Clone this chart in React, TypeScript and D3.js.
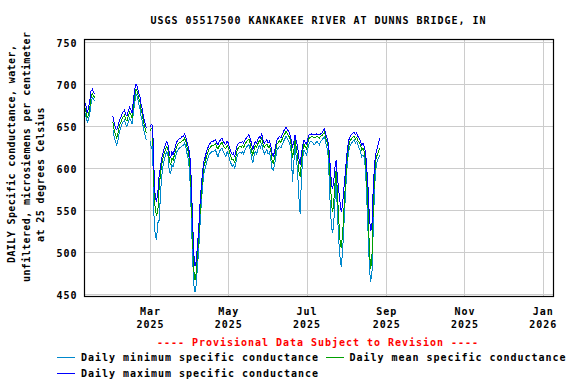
import React from 'react';
import * as d3 from 'd3';

const TITLE = 'USGS 05517500 KANKAKEE RIVER AT DUNNS BRIDGE, IN';
const Y_TITLE = [
  'DAILY Specific conductance, water,',
  'unfiltered, microsiemens per centimeter',
  'at 25 degrees Celsius',
];
const PROVISIONAL = '---- Provisional Data Subject to Revision ----';

const Y_TICKS = [450, 500, 550, 600, 650, 700, 750];
const X_TICK_DATES = ['2025-03-01', '2025-05-01', '2025-07-01', '2025-09-01', '2025-11-01', '2026-01-01'];
const X_TICK_MONTHS = ['Mar', 'May', 'Jul', 'Sep', 'Nov', 'Jan'];
const X_TICK_YEARS = ['2025', '2025', '2025', '2025', '2025', '2026'];

// first day of each run of daily values (gaps between runs)
const SEGMENT_STARTS = ['2025-01-09', '2025-01-31', '2025-03-01'];

const MAX_1 = [678, 675, 666, 672, 680, 692, 694, 690, 689];
const MEAN_1 = [673, 668, 660, 664, 672, 684, 689, 686, 684];
const MIN_1 = [668, 662, 655, 658, 665, 677, 684, 682, 680];

const MAX_2 = [662, 654, 648, 646, 650, 656, 660, 664, 667, 669, 664, 662, 668, 673, 670, 666, 681, 694, 700, 698, 690, 686, 676, 670, 660, 654, 648];
const MEAN_2 = [655, 646, 640, 636, 642, 650, 654, 658, 661, 663, 658, 656, 662, 667, 664, 660, 674, 686, 694, 692, 684, 680, 670, 664, 654, 648, 642];
const MIN_2 = [646, 638, 632, 628, 634, 643, 648, 652, 655, 657, 652, 650, 655, 660, 657, 653, 666, 678, 688, 686, 678, 672, 662, 656, 646, 640, 634];

const MAX_3 = [
  650, 652, 651, 600, 565, 560, 570, 590, 600, 612,
  618, 624, 628, 632, 628, 618, 612, 620, 616, 622,
  628, 632, 634, 636, 636, 638, 638, 641, 636, 630,
  624, 616, 590, 545, 500, 484, 490, 510, 530, 560,
  580, 598, 608, 614, 620, 624, 628, 630, 632, 632,
  633, 634, 630, 628, 632, 634, 636, 632, 630, 628,
  632, 630, 624, 620, 616, 618, 614, 622, 628, 630,
  631, 630, 632, 630, 634, 636, 638, 640, 636, 630,
  622, 628, 632, 630, 634, 638, 636, 641, 634, 630,
  632, 634, 630, 632, 628, 618, 614, 620, 628, 634,
  636, 638, 636, 640, 644, 646, 649, 646, 644, 640,
  634, 626, 630, 640, 632, 626, 612, 604, 618, 628,
  634, 630, 628, 636, 640, 640, 641, 640, 640, 640,
  641, 640, 640, 641, 642, 645, 647, 640, 636, 630,
  612, 590, 575, 582, 600, 610, 590, 575, 560, 548,
  556, 575, 592, 610, 626, 634, 638, 640, 642, 643,
  640, 642, 638, 636, 632, 628, 630, 626, 618, 598,
  575, 540, 525, 535, 580, 605, 618, 624, 630, 636,
];
const MEAN_3 = [
  645, 647, 646, 580, 550, 545, 548, 575, 592, 604,
  612, 618, 622, 626, 622, 610, 604, 612, 610, 616,
  622, 627, 629, 631, 631, 633, 633, 636, 631, 624,
  618, 605, 575, 525, 480, 467, 476, 498, 518, 548,
  570, 590, 602, 608, 614, 619, 623, 625, 627, 627,
  628, 629, 625, 623, 627, 629, 631, 627, 625, 623,
  627, 625, 618, 614, 610, 610, 607, 615, 622, 625,
  626, 625, 627, 625, 629, 631, 633, 635, 630, 622,
  615, 622, 627, 625, 629, 633, 631, 636, 629, 625,
  627, 629, 625, 627, 622, 610, 606, 612, 622, 629,
  631, 633, 631, 635, 639, 641, 644, 641, 639, 635,
  628, 612, 620, 634, 624, 614, 596, 590, 608, 622,
  629, 625, 623, 631, 636, 637, 638, 637, 636, 637,
  638, 637, 636, 638, 639, 641, 643, 636, 631, 624,
  598, 570, 548, 555, 580, 598, 572, 540, 515, 505,
  520, 548, 575, 598, 618, 628, 633, 635, 637, 638,
  635, 637, 633, 631, 627, 622, 624, 620, 608, 580,
  548, 500, 480, 498, 555, 592, 610, 616, 620, 624,
];
const MIN_3 = [
  632, 624, 628, 545, 520, 515, 535, 538, 565, 590,
  602, 610, 616, 620, 614, 596, 594, 604, 602, 608,
  614, 620, 622, 625, 625, 627, 627, 630, 624, 616,
  610, 590, 550, 500, 462, 453, 462, 485, 505, 535,
  560, 580, 594, 600, 607, 612, 616, 618, 620, 620,
  621, 622, 617, 614, 620, 622, 624, 620, 617, 614,
  620, 617, 610, 606, 602, 604, 600, 608, 615, 618,
  619, 618, 620, 617, 622, 625, 627, 628, 622, 614,
  606, 614, 620, 617, 622, 627, 624, 629, 622, 617,
  620, 622, 617, 619, 612, 600, 598, 604, 614, 622,
  624, 626, 624, 628, 632, 635, 638, 635, 632, 628,
  620, 584, 606, 626, 612, 596, 565, 546, 590, 612,
  622, 618, 616, 624, 630, 632, 632, 630, 628, 630,
  632, 630, 628, 632, 634, 636, 638, 630, 624, 612,
  570, 540, 523, 530, 560, 584, 550, 515, 495, 483,
  500, 530, 560, 590, 610, 622, 628, 630, 632, 634,
  630, 632, 628, 624, 620, 614, 616, 612, 596, 560,
  520, 480, 465, 478, 530, 578, 600, 608, 612, 616,
];

const SERIES = [
  { key: 'min', label: 'Daily minimum specific conductance', color: '#0088cc', parts: [MIN_1, MIN_2, MIN_3] },
  { key: 'mean', label: 'Daily mean specific conductance', color: '#00a000', parts: [MEAN_1, MEAN_2, MEAN_3] },
  { key: 'max', label: 'Daily maximum specific conductance', color: '#0000ff', parts: [MAX_1, MAX_2, MAX_3] },
];

const parseDay = d3.timeParse('%Y-%m-%d');
const FONT = 'DejaVu Sans Mono, monospace';

export default function App() {
  const W = 576;
  const H = 384;
  const plot = { left: 84, right: 554, top: 39, bottom: 297 };

  const x = d3.scaleTime()
    .domain([new Date(2025, 0, 8, 12), new Date(2026, 0, 9, 20)])
    .range([plot.left, plot.right]);
  const y = d3.scaleLinear()
    .domain([446.8, 753.9])
    .range([plot.bottom, plot.top]);

  const line = d3.line<{ date: Date; v: number }>()
    .x(d => x(d.date))
    .y(d => y(d.v));

  const paths = SERIES.map(s => {
    const d = s.parts.map((vals, i) => {
      const start = parseDay(SEGMENT_STARTS[i]) as Date;
      const pts = vals.map((v, j) => ({ date: d3.timeDay.offset(start, j), v }));
      return line(pts) ?? '';
    }).join('');
    return { ...s, d };
  });

  const xTicks = X_TICK_DATES.map(s => parseDay(s) as Date);

  // legend rows: [sample x, text x, y]
  const legendPos = [[57, 81, 357], [326, 349.5, 357], [57, 81, 373]];

  return (
    <svg width={W} height={H} style={{ position: 'absolute', left: 0, top: 0, display: 'block', background: '#fff' }}
      fontFamily={FONT} fontWeight="bold">
      <text x={318.5} y={23.5} fontSize={10} letterSpacing={0.98} textAnchor="middle" fill="#000">{TITLE}</text>

      {/* grid */}
      {Y_TICKS.map(t => (
        <line key={'gy' + t} x1={plot.left} x2={plot.right} y1={Math.round(y(t)) + 0.5} y2={Math.round(y(t)) + 0.5}
          stroke="#cccccc" strokeWidth={1} />
      ))}
      {xTicks.map((t, i) => (
        <line key={'gx' + i} x1={Math.round(x(t)) + 0.5} x2={Math.round(x(t)) + 0.5} y1={plot.top} y2={plot.bottom}
          stroke="#cccccc" strokeWidth={1} />
      ))}

      {/* data */}
      {paths.map(p => (
        <path key={p.key} d={p.d} fill="none" stroke={p.color} strokeWidth={1} shapeRendering="crispEdges" />
      ))}

      <rect x={plot.left + 0.5} y={plot.top + 0.5} width={plot.right - plot.left - 1} height={plot.bottom - plot.top - 1}
        fill="none" stroke="#000" strokeWidth={1.2} />

      {/* y ticks */}
      {Y_TICKS.map(t => (
        <text key={'ty' + t} x={77.5} y={y(t) + 5} fontSize={10} letterSpacing={0.98} textAnchor="end" fill="#000">{t}</text>
      ))}
      {/* x ticks */}
      {xTicks.map((t, i) => (
        <g key={'tx' + i}>
          <text x={x(t) + 0.5} y={315} fontSize={10} letterSpacing={0.98} textAnchor="middle" fill="#000">{X_TICK_MONTHS[i]}</text>
          <text x={x(t) + 0.5} y={328} fontSize={10} letterSpacing={0.98} textAnchor="middle" fill="#000">{X_TICK_YEARS[i]}</text>
        </g>
      ))}

      {/* y title */}
      {Y_TITLE.map((s, i) => {
        const bx = [15, 29.5, 44][i];
        const by = [263, 282, 242][i];
        return (
          <text key={'yt' + i} transform={`translate(${bx},${by}) rotate(-90)`} fontSize={10} letterSpacing={0.4}
            textAnchor="start" fill="#000">{s}</text>
        );
      })}

      <text x={318} y={346} fontSize={10} letterSpacing={0.98} textAnchor="middle" fill="#ff0000">{PROVISIONAL}</text>

      {/* legend */}
      {SERIES.map((s, i) => {
        const [lx, tx, ly] = legendPos[i];
        return (
          <g key={'lg' + s.key}>
            <rect x={lx} y={ly} width={18} height={1} fill={s.color} />
            <text x={tx} y={ly + 3.5} fontSize={10} letterSpacing={0.98} fill="#000">{s.label}</text>
          </g>
        );
      })}
    </svg>
  );
}
